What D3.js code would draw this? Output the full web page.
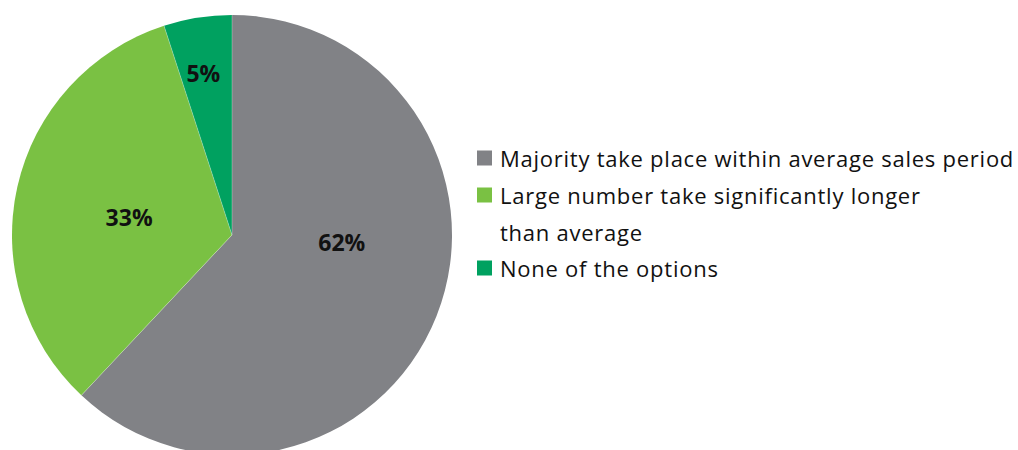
<!DOCTYPE html>
<html>
<head>
<meta charset="utf-8">
<script src="https://cdn.jsdelivr.net/npm/d3@7/dist/d3.min.js"></script>
<style>
  html, body { margin: 0; padding: 0; background: #fff; }
  svg { display: block; }
</style>
</head>
<body>
<svg id="chart" width="1018" height="450"></svg>
<script>
// Survey answer shares (percent)
const categories = [
  "Majority take place within average sales period",
  "Large number take significantly longer than average",
  "None of the options"
];
const values = [62, 33, 5];
const colors = ["#818286", "#7ac143", "#00a160"];
// Legend text, wrapped as it is drawn
const legendLines = [
  ["Majority take place within average sales period"],
  ["Large number take significantly longer", "than average"],
  ["None of the options"]
];
// Label placement inside each slice: angle (deg, clockwise from top) and radius fraction
const labelPlacement = [
  { angle: 93.6, r: 0.50 },
  { angle: 280, r: 0.475 },
  { angle: 350, r: 0.75 }
];

const svg = d3.select("#chart");
const cx = 232, cy = 235, radius = 220;

const data = categories.map((c, i) => ({ name: c, value: values[i], color: colors[i] }));

const pie = d3.pie().value(d => d.value).sort(null);
const arc = d3.arc().innerRadius(0).outerRadius(radius);

const g = svg.append("g").attr("transform", `translate(${cx},${cy})`);
const arcs = pie(data);

g.selectAll("path.slice")
  .data(arcs)
  .join("path")
  .attr("class", "slice")
  .attr("d", arc)
  .attr("fill", d => d.data.color);

// Thin light separators between slices
g.selectAll("line.sep")
  .data(arcs)
  .join("line")
  .attr("x1", 0).attr("y1", 0)
  .attr("x2", d => radius * Math.sin(d.startAngle))
  .attr("y2", d => -radius * Math.cos(d.startAngle))
  .attr("stroke", "rgba(255,255,255,0.35)")
  .attr("stroke-width", 0.8);

g.selectAll("text.lbl")
  .data(arcs)
  .join("text")
  .attr("class", "lbl")
  .attr("x", (d, i) => labelPlacement[i].r * radius * Math.sin(labelPlacement[i].angle * Math.PI / 180))
  .attr("y", (d, i) => -labelPlacement[i].r * radius * Math.cos(labelPlacement[i].angle * Math.PI / 180))
  .attr("text-anchor", "middle")
  .attr("dominant-baseline", "central")
  .attr("font-family", "'Open Sans', 'DejaVu Sans', sans-serif")
  .attr("font-weight", 700)
  .attr("font-size", 23)
  .attr("fill", "#111")
  .text(d => d.data.value + "%");

// Legend
const legend = svg.append("g").attr("transform", "translate(477,0)");
const rowTops = [158, 195, 268];
const lineGap = 37;
legendLines.forEach((lines, i) => {
  const y = rowTops[i];
  legend.append("rect")
    .attr("x", 0).attr("y", y - 7.5)
    .attr("width", 15).attr("height", 15)
    .attr("fill", colors[i]);
  lines.forEach((t, j) => {
    legend.append("text")
      .attr("x", 23)
      .attr("y", y + j * lineGap)
      .attr("dominant-baseline", "central")
      .attr("font-family", "'Open Sans', 'DejaVu Sans', sans-serif")
      .attr("font-size", 22)
      .attr("letter-spacing", 0.75)
      .attr("fill", "#111")
      .text(t);
  });
});
</script>
</body>
</html>
